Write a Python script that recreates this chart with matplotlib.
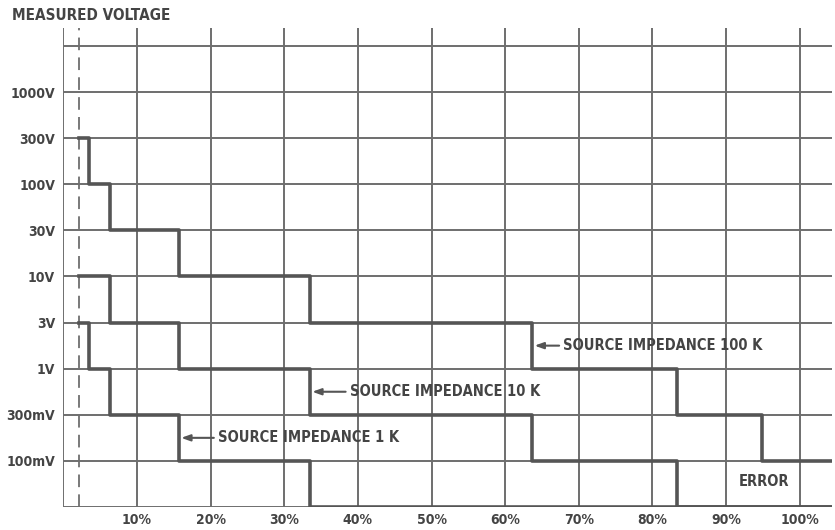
import matplotlib.pyplot as plt
from matplotlib import font_manager

# voltage levels, bottom (0) and top (10) are plain border lines
volt_labels = ["100mV", "300mV", "1V", "3V", "10V", "30V", "100V", "300V", "1000V"]
pct_ticks = [10, 20, 30, 40, 50, 60, 70, 80, 90, 100]
pct_labels = ["10%", "20%", "30%", "40%", "50%", "60%", "70%", "80%", "90%", "100%"]
dashed_x = 2.1

# step curves: x where each level starts, and the level index (1 = 100mV ... 9 = 1000V, 0 = bottom)
x_100k = [2.1, 3.5, 6.3, 15.7, 33.5, 63.7, 83.4, 94.9, 104.4]
lvl_100k = [8, 7, 6, 5, 4, 3, 2, 1, 1]
x_10k = [2.1, 6.3, 15.7, 33.5, 63.7, 83.4, 104.4]
lvl_10k = [5, 4, 3, 2, 1, 0, 0]
x_1k = [2.1, 3.5, 6.3, 15.7, 33.5, 104.4]
lvl_1k = [4, 3, 2, 1, 0, 0]

notes = ["SOURCE IMPEDANCE 1 K", "SOURCE IMPEDANCE 10 K", "SOURCE IMPEDANCE 100 K"]
note_x = [21.0, 38.9, 67.9]
note_y = [1.5, 2.5, 3.5]
note_target = [15.7, 33.5, 63.7]

names = {f.name for f in font_manager.fontManager.ttflist}
narrow = [n for n in ["Liberation Sans Narrow", "DejaVu Sans"] if n in names]
plt.rcParams['font.family'] = narrow + ['DejaVu Sans']
plt.rcParams['font.stretch'] = 'condensed'
plt.rcParams['font.weight'] = 'bold'
grid_c = '#6e6e6e'
line_c = '#555555'
text_c = '#444444'

fig = plt.figure(figsize=(8.35, 5.3), dpi=100)
ax = fig.add_axes([63.4/835, 23/530, (832-63.4)/835, 479/530])
xmax, ymax = 104.4, 10.39
ax.set_xlim(0, xmax)
ax.set_ylim(0, ymax)
for s in ax.spines.values():
    s.set_visible(False)

# grid
levels = list(range(0, 11))
ax.hlines(levels, 0, xmax, color=grid_c, lw=1.4, zorder=1)
ax.vlines([0] + pct_ticks, 0, ymax, color=grid_c, lw=1.4, zorder=1)
ax.vlines([dashed_x], 0, ymax, color=grid_c, lw=1.3, linestyles=(0, (7, 4)), zorder=1)

for xs, ls in [(x_100k, lvl_100k), (x_10k, lvl_10k), (x_1k, lvl_1k)]:
    ax.step(xs, ls, where='post', color=line_c, lw=2.6, zorder=2)

for t, tx, ty, tg in zip(notes, note_x, note_y, note_target):
    ax.annotate(t, xy=(tg + 0.3, ty), xytext=(tx, ty), va='center', ha='left',
                fontsize=10.5, color=text_c, zorder=3,
                arrowprops=dict(arrowstyle='-|>,head_length=0.5,head_width=0.18',
                                color=line_c, lw=1.5, shrinkA=1, shrinkB=0))
ax.text(95.2, 0.55, "ERROR", ha='center', va='center', fontsize=10.5, color=text_c)

ax.set_yticks(range(1, 10))
ax.set_yticklabels(volt_labels)
ax.set_xticks(pct_ticks)
ax.set_xticklabels(pct_labels)
ax.tick_params(length=0, labelsize=10, labelcolor=text_c)
ax.tick_params(axis='y', pad=6)
ax.tick_params(axis='x', pad=4)

fig.text(12/835, 1 - 15/530, "MEASURED VOLTAGE", ha='left', va='center',
         fontsize=11, color=text_c)

fig.savefig("out.png", dpi=100)
